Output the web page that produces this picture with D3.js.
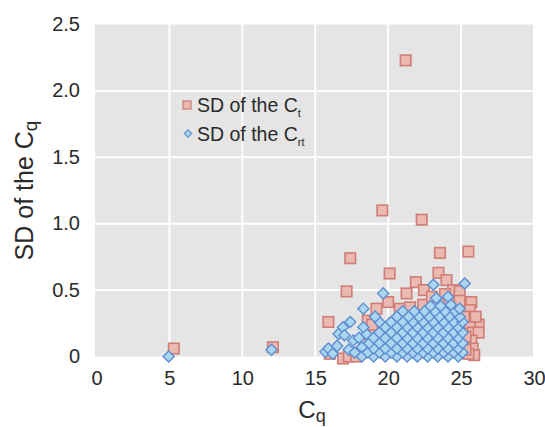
<!DOCTYPE html>
<html>
<head>
<meta charset="utf-8">
<script src="https://cdn.jsdelivr.net/npm/d3@7"></script>
<style>
  html, body { margin: 0; padding: 0; background: #ffffff; }
  svg { display: block; }
  text { font-family: "Liberation Sans", Arial, Helvetica, sans-serif; fill: #2a2a2a; }
</style>
</head>
<body>
<svg id="chart" width="545" height="427"></svg>
<script>
// ---------- data ----------
const xTicks = [0, 5, 10, 15, 20, 25, 30];
const yTicks = [0, 0.5, 1.0, 1.5, 2.0, 2.5];
const yTickLabels = ["0", "0.5", "1.0", "1.5", "2.0", "2.5"];

// SD of the Ct (red squares): [Cq, SD]
const sdCt = [
  [5.3,0.06],[12.1,0.07],[21.2,2.23],[19.6,1.10],[22.3,1.03],[17.4,0.74],[23.55,0.78],[25.5,0.79],
  [20.1,0.625],[17.15,0.49],[15.9,0.26],[21.9,0.56],[23.45,0.63],[24.0,0.575],[21.26,0.475],[22.45,0.50],
  [24.45,0.50],[24.9,0.49],[25.7,0.41],[25.6,0.35],[26.2,0.24],[25.6,0.25],[25.8,0.18],
  [26.2,0.18],[25.7,0.12],[25.8,0.06],[25.9,0.01],[25.5,0.02],[20.0,0.41],[19.2,0.36],[18.6,0.27],
  [16.9,-0.015],[17.3,0.0],[16.0,0.02],[20.8,0.36],[21.5,0.37],[22.4,0.39],[23.0,0.45],[24.2,0.40],
  [24.9,0.42],[25.2,0.30],[25.3,0.15],[25.3,0.05],[19.0,0.20],[18.75,0.11],[17.8,0.0],[19.3,0.12],
  [23.9,0.47],[22.8,0.33],[21.9,0.30],[20.4,0.25],[24.5,0.30],[18.9,0.24],[26.0,0.30]
];

// SD of the Crt (blue diamonds): [Cq, SD]
const sdCrt = [
  [4.95,0.0],[12.0,0.05],
  [15.7,0.035],[15.9,0.06],[16.2,0.02],[16.5,0.08],[16.6,0.17],[16.9,0.22],[17.0,0.16],[17.3,0.05],
  [17.4,0.26],[17.6,0.12],[18.2,0.07],[18.5,0.17],[18.3,0.36],
  [18.2,0.0],[19.0,0.0],[19.8,0.0],[20.6,0.0],[21.3,0.0],[22.0,0.0],[22.7,0.0],[23.4,0.0],[24.1,0.0],[24.8,0.0],
  [17.7,0.03],[18.6,0.03],[19.4,0.03],[20.2,0.03],[21.0,0.03],[21.7,0.03],[22.4,0.03],[23.1,0.03],[23.8,0.03],[24.5,0.03],[25.1,0.03],
  [19.0,0.06],[19.8,0.06],[20.6,0.06],[21.3,0.06],[22.0,0.06],[22.7,0.06],[23.4,0.06],[24.1,0.06],[24.8,0.06],
  [18.7,0.10],[19.4,0.10],[20.2,0.10],[21.0,0.10],[21.7,0.10],[22.4,0.10],[23.1,0.10],[23.8,0.10],[24.5,0.10],[25.1,0.10],
  [18.0,0.14],[19.0,0.14],[19.8,0.14],[20.6,0.14],[21.3,0.14],[22.0,0.14],[22.7,0.14],[23.4,0.14],[24.1,0.14],[24.8,0.14],
  [19.4,0.18],[20.2,0.18],[21.0,0.18],[21.7,0.18],[22.4,0.18],[23.1,0.18],[23.8,0.18],[24.5,0.18],[25.1,0.18],
  [18.3,0.22],[19.8,0.22],[20.6,0.22],[21.3,0.22],[22.0,0.22],[22.7,0.22],[23.4,0.22],[24.1,0.22],[24.8,0.22],
  [19.4,0.26],[20.2,0.26],[21.0,0.26],[21.7,0.26],[22.4,0.26],[23.1,0.26],[23.8,0.26],[24.5,0.26],[25.1,0.26],
  [19.1,0.30],[20.6,0.30],[21.4,0.30],[22.1,0.30],[22.8,0.30],[23.5,0.30],[24.2,0.30],[24.9,0.30],
  [21.0,0.34],[21.8,0.34],[22.5,0.34],[23.2,0.34],[23.9,0.34],[24.6,0.34],[24.9,0.36],
  [22.9,0.38],[23.6,0.38],[24.3,0.39],
  [23.3,0.44],[24.1,0.45],[19.66,0.475],[23.1,0.54],[25.25,0.55]
];

// ---------- layout ----------
const svg = d3.select("#chart");
const pL = 95, pR = 533, pT = 24.5, pB = 356.5;

const x = d3.scaleLinear().domain([0, 30]).range([pL + 1.5, pR + 1]);
const y = d3.scaleLinear().domain([0, 2.5]).range([pB, pT]);

// plot background
svg.append("rect")
  .attr("x", pL).attr("y", pT)
  .attr("width", pR - pL).attr("height", pB - pT)
  .attr("fill", "#e5e5e5");

// grid lines
svg.append("g").selectAll("line")
  .data(xTicks.filter(d => d > 0 && d < 30))
  .join("line")
  .attr("x1", d => x(d)).attr("x2", d => x(d))
  .attr("y1", pT).attr("y2", pB)
  .attr("stroke", "#ffffff").attr("stroke-width", 2);

svg.append("g").selectAll("line")
  .data(yTicks.filter(d => d > 0 && d < 2.5))
  .join("line")
  .attr("x1", pL).attr("x2", pR)
  .attr("y1", d => y(d)).attr("y2", d => y(d))
  .attr("stroke", "#ffffff").attr("stroke-width", 2);

// axes (labels only)
const xAxis = d3.axisBottom(x).tickValues(xTicks).tickFormat(d3.format("d")).tickSize(0).tickPadding(14);
const gx = svg.append("g").attr("transform", `translate(0,${pB})`).call(xAxis);
gx.select(".domain").remove();
gx.selectAll("text").attr("font-size", 20).attr("font-family", null).style("fill", "#2a2a2a");

const yAxis = d3.axisLeft(y).tickValues(yTicks).tickFormat((d, i) => yTickLabels[i]).tickSize(0).tickPadding(15);
const gy = svg.append("g").attr("transform", `translate(${pL},0)`).call(yAxis);
gy.select(".domain").remove();
gy.selectAll("text").attr("font-size", 20).attr("font-family", null).attr("dy", "0.3em").style("fill", "#2a2a2a");

// markers
const sq = 10.5;
svg.append("g").selectAll("rect")
  .data(sdCt)
  .join("rect")
  .attr("x", d => x(d[0]) - sq / 2)
  .attr("y", d => y(d[1]) - sq / 2)
  .attr("width", sq).attr("height", sq)
  .attr("fill", "#eab9b1")
  .attr("stroke", "#d07d76")
  .attr("stroke-width", 1.6);

const diamond = d3.symbol().type(d3.symbolSquare).size(62);
svg.append("g").selectAll("path")
  .data(sdCrt)
  .join("path")
  .attr("d", diamond)
  .attr("transform", d => `translate(${x(d[0])},${y(d[1])}) rotate(45)`)
  .attr("fill", "#acd6f0")
  .attr("stroke", "#5d8fd2")
  .attr("stroke-width", 1.4);

// legend
const lg = svg.append("g");
lg.append("rect").attr("x", 183).attr("y", 101).attr("width", 8).attr("height", 8)
  .attr("fill", "#eab9b1").attr("stroke", "#d07d76").attr("stroke-width", 1.3);
lg.append("path").attr("d", d3.symbol().type(d3.symbolSquare).size(26)())
  .attr("transform", "translate(188,133.5) rotate(45)")
  .attr("fill", "#acd6f0").attr("stroke", "#5d8fd2").attr("stroke-width", 1.2);

const t1 = lg.append("text").attr("x", 197).attr("y", 112).attr("font-size", 19.5);
t1.append("tspan").text("SD of the C");
t1.append("tspan").attr("font-size", 11).attr("dy", 5).text("t");

const t2 = lg.append("text").attr("x", 197).attr("y", 140.5).attr("font-size", 19.5);
t2.append("tspan").text("SD of the C");
t2.append("tspan").attr("font-size", 11).attr("dy", 5).text("rt");

// axis titles
const xt = svg.append("text").attr("x", 312).attr("y", 418).attr("text-anchor", "middle").attr("font-size", 24);
xt.append("tspan").text("C");
xt.append("tspan").attr("font-size", 18).attr("dy", 4).text("q");

const yt = svg.append("text")
  .attr("transform", `translate(33,${(pT + pB) / 2}) rotate(-90)`)
  .attr("text-anchor", "middle").attr("font-size", 25);
yt.append("tspan").text("SD of the C");
yt.append("tspan").attr("font-size", 19).attr("dy", 4).text("q");
</script>
</body>
</html>
